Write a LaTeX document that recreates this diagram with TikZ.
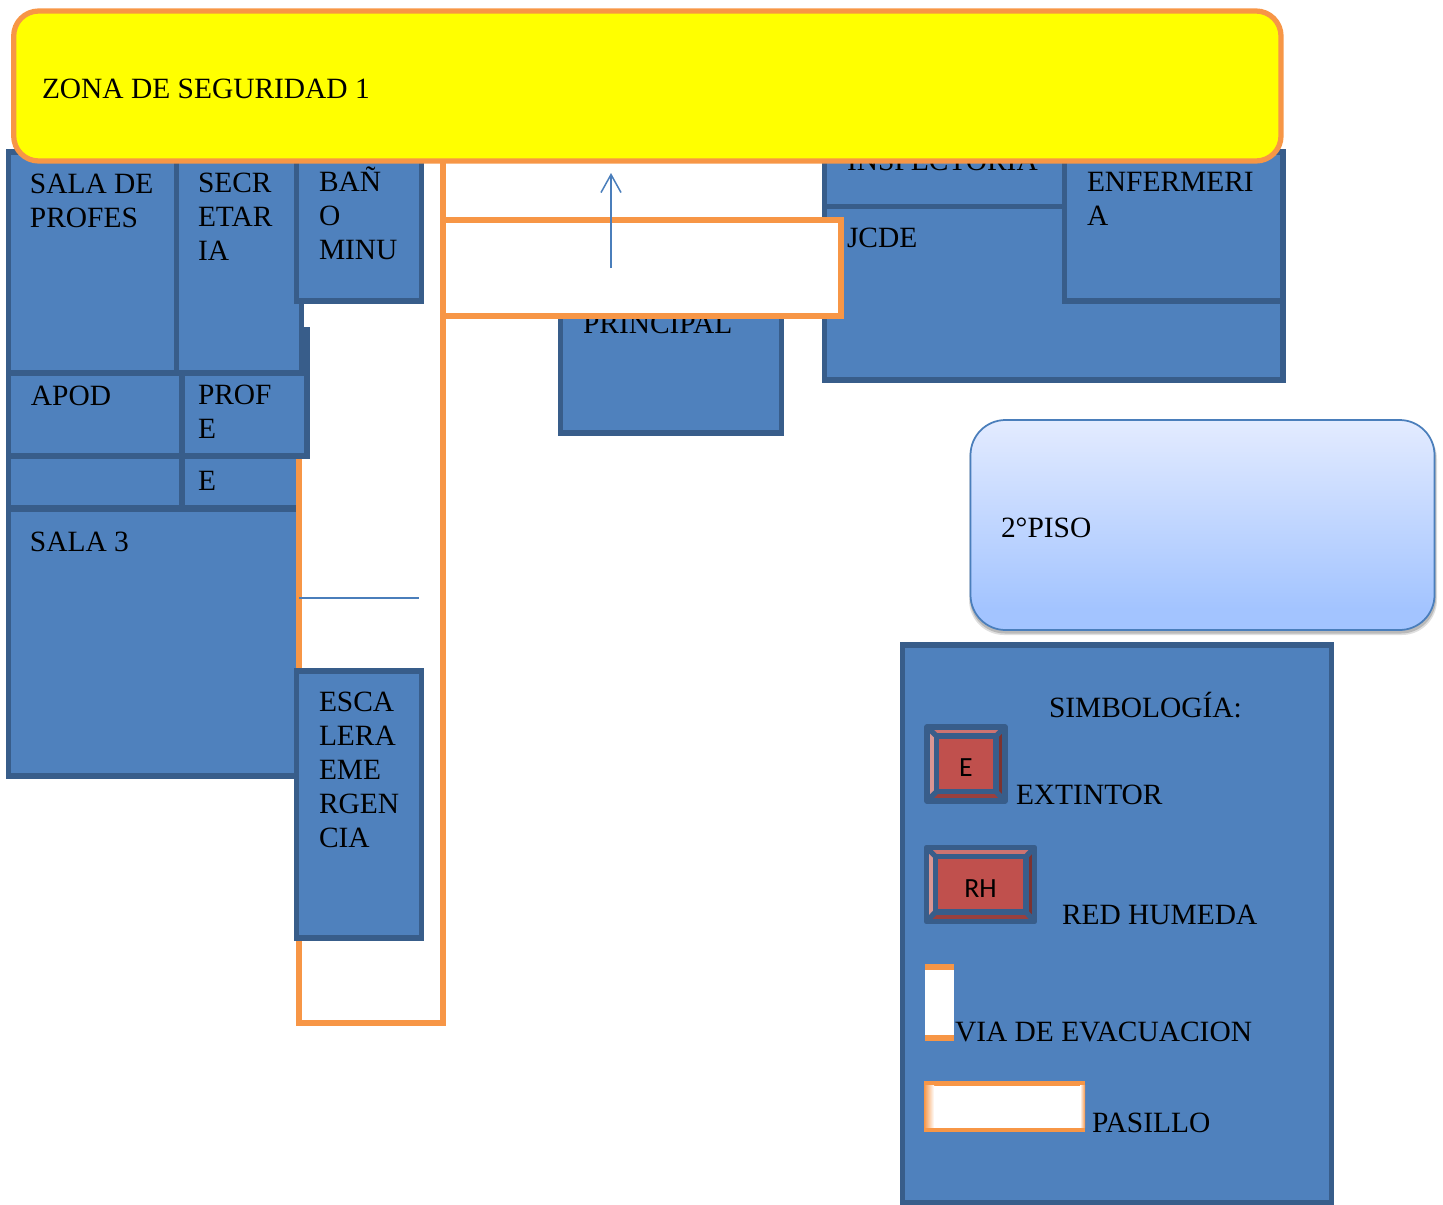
\documentclass[tikz,border=0pt]{standalone}
\usepackage{fontspec}
\setmainfont{Liberation Serif}
\newfontfamily\calib{Carlito}
\usetikzlibrary{arrows.meta}
\definecolor{roomblue}{HTML}{4F81BD}
\definecolor{roomdark}{HTML}{385D8A}
\definecolor{pasorange}{HTML}{F79646}
\definecolor{zonayellow}{HTML}{FFFF00}
\definecolor{pisotop}{HTML}{E3EBFF}
\definecolor{pisobot}{HTML}{A3C4FF}
\definecolor{pisoline}{HTML}{4A7EBB}
\definecolor{bevface}{HTML}{C0504D}
\definecolor{bevtop}{HTML}{CD7371}
\definecolor{bevleft}{HTML}{D99694}
\definecolor{bevbot}{HTML}{9A403E}
\definecolor{bevright}{HTML}{7D3330}
\pgfdeclareverticalshading{pisoshade}{100bp}{color(0bp)=(pisobot); color(30bp)=(pisobot); color(75bp)=(pisotop); color(100bp)=(pisotop)}
\tikzset{
  room/.style={fill=roomblue,draw=roomdark,line width=.105cm},
  pasillo/.style={fill=white,draw=pasorange,line width=.105cm},
  lbl/.style={anchor=base west,inner sep=0pt,outer sep=0pt,align=left,text=black,
    font=\fontsize{16.75}{19.3}\selectfont},
  keylbl/.style={anchor=base,inner sep=0pt,outer sep=0pt,text=black,
    font=\calib\fontsize{15.8}{18}\selectfont},
  thinblue/.style={draw=pisoline,line width=.03cm},
  bevline/.style={draw=roomdark,line width=.105cm,line join=round},
}
% outer x1 y1 x2 y2, inner x1 y1 x2 y2 (centre lines of the strokes)
\newcommand{\bevelkey}[8]{%
  \fill[bevface] (#1,#2) rectangle (#3,#4);
  \fill[bevtop] (#1,#2) -- (#3,#2) -- (#7,#6) -- (#5,#6) -- cycle;
  \fill[bevleft] (#1,#2) -- (#5,#6) -- (#5,#8) -- (#1,#4) -- cycle;
  \fill[bevright] (#3,#2) -- (#7,#6) -- (#7,#8) -- (#3,#4) -- cycle;
  \fill[bevbot] (#1,#4) -- (#3,#4) -- (#7,#8) -- (#5,#8) -- cycle;
  \draw[bevline] (#1,#2) rectangle (#3,#4);
  \draw[bevline] (#5,#6) rectangle (#7,#8);
  \draw[bevline] (#1,#2) -- (#5,#6) (#3,#2) -- (#7,#6) (#3,#4) -- (#7,#8) (#1,#4) -- (#5,#8);
}
\begin{document}
\begin{tikzpicture}[x=.02cm,y=-.02cm]
\useasboundingbox (0,0) rectangle (1443,1204);
% left wing, lower rooms
\path[room] (8.5,509) rectangle (299,776);
\path[room] (8.5,456) rectangle (182,508);
\path[room] (182,456) rectangle (299,508);
% vertical corridor
\path[pasillo] (299,150) rectangle (443,1023);
\coordinate (thinA) at (299,598);
\coordinate (thinB) at (419,598);
\draw[thinblue] (thinA) -- (thinB);
% upper rooms of the left wing
\path[room] (182,330) rectangle (307,456);
\path[room] (8.5,373) rectangle (182,456);
\path[room] (176.5,152) rectangle (301.5,373);
\path[room] (8.5,152) rectangle (176.5,373);
\path[room] (296.5,152) rectangle (421.5,301);
\path[room] (296.5,671) rectangle (421.5,938);
% right wing
\path[room] (824.5,206.5) rectangle (1283,380);
\path[room] (824.5,152) rectangle (1064.5,206.5);
\path[room] (1064.5,152) rectangle (1283,301);
\path[room] (560.5,250) rectangle (781.5,433);
% labels of the rooms (a node's base is the baseline of its last line)
\node[lbl] (salaprofes) at (30,227) {SALA DE\\PROFES};
\node[lbl] (secretaria) at (198,260) {SECR\\ETAR\\IA};
\node[lbl] (bano) at (319,259) {BAÑ\\O\\MINU};
\node[lbl] (apod) at (31,405) {APOD};
\node[lbl] (profe) at (198,438) {PROF\\E};
\node[lbl] (ee) at (198,490) {E};
\node[lbl] (sala3) at (30,551) {SALA 3};
\node[lbl] (escalera) at (319,847) {ESCA\\LERA\\EME\\RGEN\\CIA};
\node[lbl] (inspectoria) at (847,170) {INSPECTORIA};
\node[lbl] (enfermeria) at (1087,225) {ENFERMERI\\A};
\node[lbl] (jcde) at (847,247) {JCDE};
\node[lbl] (principal) at (583,333) {PRINCIPAL};
% horizontal corridor and exit arrow
\path[pasillo] (443,220) rectangle (841,316);
\coordinate (arrowA) at (611,268);
\coordinate (arrowB) at (611,173);
\draw[thinblue,-{Straight Barb[length=.36cm,width=.4cm,line width=.03cm]}] (arrowA) -- (arrowB);
% safety zone
\path[draw=pasorange,fill=zonayellow,line width=.105cm,rounded corners=.5cm] (13.7,11) rectangle (1281,161);
\node[lbl] (zona) at (42,98) {ZONA DE SEGURIDAD 1};
% floor label
\fill[gray!25,rounded corners=.7cm] (969,424) rectangle (1437,635);
\fill[gray!55,rounded corners=.7cm] (970,424) rectangle (1436,633.5);
\path[shading=pisoshade,rounded corners=.7cm] (970.5,420) rectangle (1434.5,630);
\draw[draw=pisoline,line width=.035cm,rounded corners=.7cm] (970.5,420) rectangle (1434.5,630);
\node[lbl] (piso) at (1001,537) {2°PISO};
% legend
\path[room] (902.5,645) rectangle (1331.5,1203);
\node[lbl] (simbologia) at (1049,717) {SIMBOLOGÍA:};
\bevelkey{927}{727}{1005}{801}{936.5}{736}{996}{791.7}
\node[keylbl] (keye) at (966,776) {E};
\node[lbl] (extintor) at (1016,804) {EXTINTOR};
\bevelkey{926.5}{847.5}{1034.5}{921.5}{935.5}{856.5}{1026}{912}
\node[keylbl] (keyrh) at (980.5,897) {RH};
\node[lbl] (redhumeda) at (1062,924) {RED HUMEDA};
% legend: evacuation route swatch
\fill[pasorange] (924.5,964) rectangle (954,1041);
\fill[white] (925,970) rectangle (953.5,1035);
\node[lbl] (via) at (955,1041) {VIA DE EVACUACION};
% legend: corridor swatch
\fill[pasorange] (924,1081) rectangle (1085,1131.7);
\fill[white] (934,1085.5) rectangle (1080,1127.5);
\shade[left color=pasorange,right color=white] (924,1085.5) rectangle (934,1127.5);
\shade[left color=white,right color=pasorange] (1080,1085.5) rectangle (1085,1127.5);
\node[lbl] (pasillolbl) at (1092,1132) {PASILLO};
\end{tikzpicture}
\end{document}
